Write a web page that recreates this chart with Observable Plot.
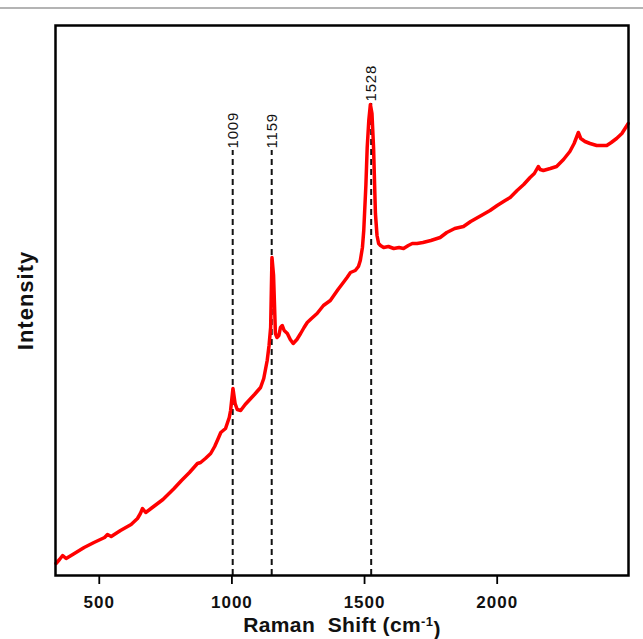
<!DOCTYPE html>
<html><head><meta charset="utf-8">
<script src="https://cdn.jsdelivr.net/npm/d3@7"></script>
<script src="https://cdn.jsdelivr.net/npm/@observablehq/plot@0.6"></script>
<style>
body{margin:0;background:#fff;}
#chart{position:absolute;left:0;top:0;}
#topline{position:absolute;left:0;top:7px;width:643px;height:2px;background:#b4b4b4;}
</style></head><body>
<div id="chart"></div><div id="topline"></div>
<script>
// Raman shift (cm-1) and intensity (arbitrary units)
const shift = [337,350,362,375,400,443,480,520,531,545,580,620,644,655,663,675,700,740,782,810,840,870,882,900,920,935,950,958,976,990,995,1004,1012,1020,1033,1050,1064,1085,1108,1120,1133,1140,1146,1151,1157,1164,1170,1177,1183,1190,1197,1209,1220,1231,1245,1259,1272,1284,1300,1321,1345,1371,1400,1420,1434,1447,1465,1477,1484,1492,1497,1505,1510,1516,1522,1528,1534,1538,1541,1547,1553,1560,1572,1590,1610,1630,1647,1665,1680,1698,1720,1750,1785,1810,1840,1873,1900,1940,1973,2000,2030,2049,2075,2100,2124,2140,2155,2162,2174,2200,2224,2250,2274,2290,2306,2315,2331,2350,2375,2395,2413,2430,2450,2470,2494];
const intensity = [12,16,20,17,21,28,33,38,41,39,45,51,57,62,67,63,68,76,87,95,103,112,113,117,122,129,138,143,147,158,165,187,172,166,165,171,175,181,188,197,215,230,248,318,300,242,238,240,248,250,245,242,236,232,236,242,248,253,257,262,270,275,286,293,298,303,305,309,315,328,345,390,428,455,471,462,428,390,362,340,332,330,328,329,327,328,327,330,332,332,333,335,338,343,347,349,354,360,365,370,375,378,385,391,398,402,409,406,405,407,409,416,424,432,443,437,434,432,430,430,430,433,437,442,452];
const peakShift = [1003, 1150, 1525];
const peakTop = [425, 425, 472];
const peakLabels = ["1009", "1159", "1528"];
const xTicks = [500, 1000, 1500, 2000];
const xTitle = "Raman\u00a0 Shift (cm-1)";
const yTitle = "Intensity";

const spectrum = shift.map((s, i) => ({s, v: intensity[i]}));
const peaks = peakShift.map((s, i) => ({s, top: peakTop[i], label: peakLabels[i]}));

const chart = Plot.plot({
  width: 643, height: 639,
  marginLeft: 55, marginRight: 15, marginTop: 25, marginBottom: 64,
  style: {fontFamily: "'Liberation Sans', Arial, sans-serif", background: "white"},
  x: {domain: [335, 2495]},
  y: {domain: [0, 550], axis: null},
  marks: [
    Plot.ruleX(peaks, {x: "s", y1: 0, y2: "top", stroke: "#111", strokeWidth: 2, strokeDasharray: "6,4"}),
    Plot.line(spectrum, {x: "s", y: "v", stroke: "#ff0000", strokeWidth: 3.5}),
    Plot.text(peaks, {x: "s", y: "top", text: "label", rotate: -90, textAnchor: "start", lineAnchor: "middle", dy: -2, fontSize: 15, fill: "#111", className: "peaklab"}),
    Plot.frame({stroke: "black", strokeWidth: 2.5}),
    Plot.axisX({ticks: xTicks, tickSize: 9, tickPadding: 11, tickFormat: d => String(d), fontSize: 17, fontWeight: "bold", strokeWidth: 1.8, label: null, fill: "#111", className: "xticks"}),
    Plot.text([xTitle], {frameAnchor: "bottom", text: d => d, lineAnchor: "middle", textAnchor: "middle", dy: 50, fontSize: 21, fontWeight: "bold", fill: "#111", className: "xtitle"}),
    Plot.text([yTitle], {frameAnchor: "left", text: d => d, rotate: -90, lineAnchor: "middle", textAnchor: "middle", dx: -30, fontSize: 22, fontWeight: "bold", fill: "#111", className: "ytitle"})
  ]
});
document.getElementById("chart").appendChild(chart);

const svg = d3.select(chart);
svg.selectAll(".xticks text").style("letter-spacing", "1px");
svg.selectAll(".peaklab text").style("letter-spacing", "0.8px");
svg.selectAll(".ytitle text").style("letter-spacing", "1px");
// superscript the "-1" of the axis title
svg.selectAll("text").filter(function(){ return this.textContent === xTitle; }).each(function(){
  const t = d3.select(this);
  t.text("").style("letter-spacing", "0.4px");
  t.append("tspan").text("Raman\u00a0 Shift (cm");
  t.append("tspan").attr("dy", "-0.45em").attr("font-size", "13px").text("-1");
  t.append("tspan").attr("dy", "0.45em").text(")");
});
</script>
</body></html>
